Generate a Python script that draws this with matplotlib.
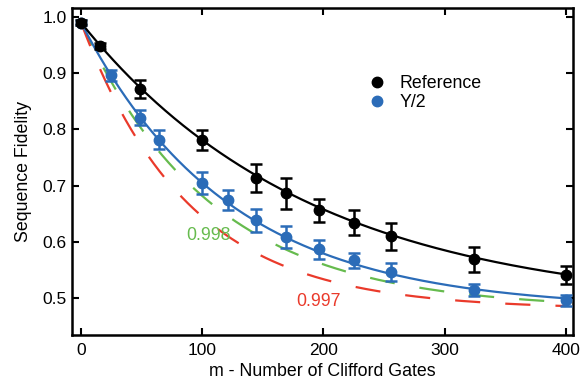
import numpy as np
import matplotlib
matplotlib.use("Agg")
import matplotlib.pyplot as plt
from matplotlib.lines import Line2D

plt.rcParams['font.family'] = ['Liberation Sans', 'DejaVu Sans']

# Reference sequence data
ref_m = [0, 16, 49, 100, 144, 169, 196, 225, 256, 324, 400]
ref_f = [0.990, 0.948, 0.872, 0.781, 0.714, 0.686, 0.656, 0.634, 0.610, 0.569, 0.540]
ref_err = [0.004, 0.005, 0.016, 0.018, 0.025, 0.028, 0.020, 0.022, 0.024, 0.022, 0.016]

# Interleaved Y/2 data
y2_m = [0, 25, 49, 64, 100, 121, 144, 169, 196, 225, 256, 324, 400]
y2_f = [0.990, 0.896, 0.821, 0.782, 0.705, 0.674, 0.638, 0.608, 0.587, 0.567, 0.546, 0.514, 0.496]
y2_err = [0.004, 0.010, 0.013, 0.017, 0.020, 0.018, 0.020, 0.020, 0.017, 0.013, 0.016, 0.010, 0.010]

# Fit parameters F = A * p**m + B
fit_A = 0.51
fit_B = 0.48
p_ref = 0.99474
p_y2 = 0.99184
# predicted interleaved curves for gate fidelities
gate_fids = [0.998, 0.997]
gate_labels = ["0.998", "0.997"]

black = "#000000"
blue = "#2b6cb8"
green = "#66bb4e"
red = "#ea3a2b"
FS = 12.8

fig = plt.figure(figsize=(5.81, 3.84), dpi=100)
ax = fig.add_axes([0.1239, 0.1276, 0.8623, 0.8514])

mm = np.linspace(0, 400, 600)
# dashed predictions
for gf, col in zip(gate_fids, [green, red]):
    p_gate = 1 - 2 * (1 - gf)
    ax.plot(mm, fit_A * (p_ref * p_gate) ** mm + fit_B, color=col, lw=1.6,
            ls=(0, (11.3, 11.3)), zorder=2)

ax.plot(mm, fit_A * p_y2 ** mm + fit_B, color=blue, lw=1.6, zorder=3)
ax.plot(mm, fit_A * p_ref ** mm + fit_B, color=black, lw=1.6, zorder=3)

ax.errorbar(y2_m, y2_f, yerr=y2_err, fmt='o', color=blue, ms=7.5, elinewidth=1.8,
            capsize=4, capthick=1.8, zorder=4)
ax.errorbar(ref_m, ref_f, yerr=ref_err, fmt='o', color=black, ms=7.5, elinewidth=1.8,
            capsize=4, capthick=1.8, zorder=5)

ax.text(87, 0.612, gate_labels[0], color=green, fontsize=FS, ha='left', va='center')
ax.text(178, 0.4945, gate_labels[1], color=red, fontsize=FS, ha='left', va='center')

ax.set_xlim(-7.5, 406)
ax.set_ylim(0.434, 1.016)
ax.set_xticks([0, 100, 200, 300, 400])
ax.set_yticks([0.5, 0.6, 0.7, 0.8, 0.9, 1.0])
ax.set_yticklabels(["0.5", "0.6", "0.7", "0.8", "0.9", "1.0"])
ax.tick_params(direction='in', length=5, width=1.5, labelsize=12.5, top=True, right=True)
ax.tick_params(axis='x', pad=6)
ax.tick_params(axis='y', pad=4)
for s in ax.spines.values():
    s.set_linewidth(1.8)

ax.set_xlabel("m - Number of Clifford Gates", fontsize=FS, labelpad=3)
ax.set_ylabel("Sequence Fidelity", fontsize=FS, labelpad=7)

handles = [Line2D([], [], ls='none', marker='o', ms=7.5, color=black),
           Line2D([], [], ls='none', marker='o', ms=7.5, color=blue)]
ax.legend(handles, ["Reference", "Y/2"], loc='upper left', bbox_to_anchor=(0.56, 0.845),
          frameon=False, fontsize=FS, handletextpad=0.75, labelspacing=0.12,
          handlelength=1.0)

fig.savefig("out.png", dpi=100)
